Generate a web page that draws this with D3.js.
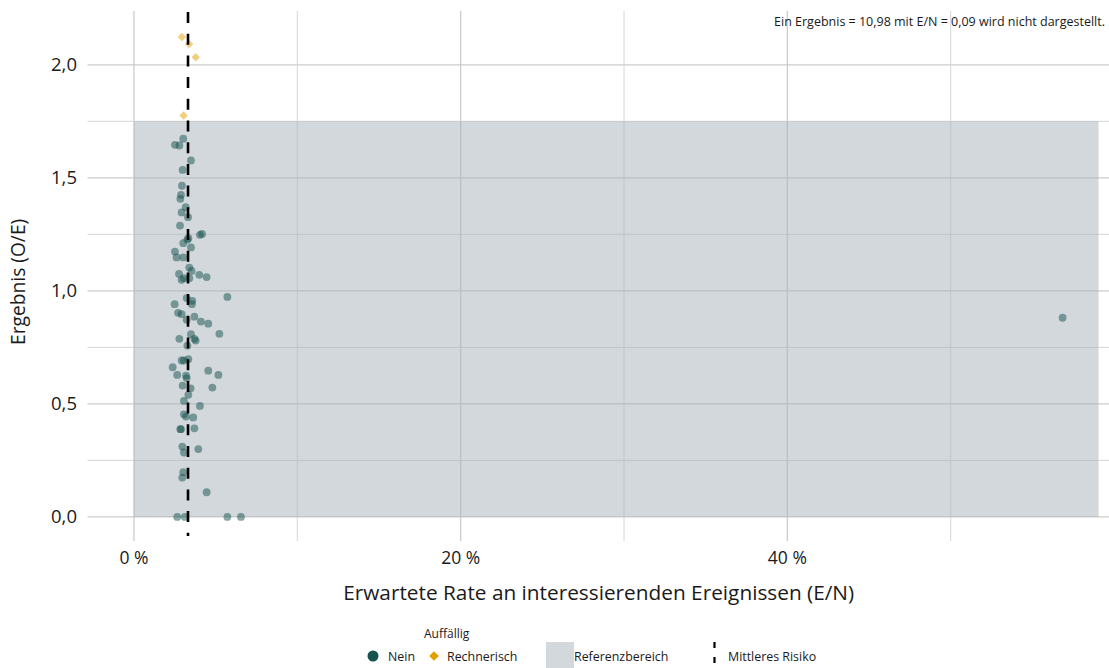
<!DOCTYPE html>
<html>
<head>
<meta charset="utf-8">
<script src="https://cdn.jsdelivr.net/npm/d3@7"></script>
<style>
  html, body { margin: 0; padding: 0; background: #fff; }
  svg text { font-family: "Open Sans", Lato, sans-serif; fill: #1a1a1a; }
</style>
</head>
<body>
<svg id="chart" width="1109" height="668"></svg>
<script>
// ---- data ----
// "Nein" (not conspicuous): expected rate E/N in %, result O/E
const neinRate = [
  3.02, 2.51, 2.78, 3.49, 2.98, 2.94, 2.88, 2.84, 3.17, 2.92, 3.31, 2.82,
  4.17, 4.04, 3.33, 3.27, 3.02, 3.49, 2.51, 2.61, 3.02, 3.39, 3.53, 2.76,
  4.00, 4.45, 3.06, 2.92, 3.39, 5.72, 3.23, 3.57, 3.55, 2.49, 2.70, 2.92,
  3.70, 3.23, 4.10, 4.55, 5.23, 3.49, 2.78, 3.70, 3.78, 3.27, 3.33, 2.92,
  3.06, 2.37, 4.55, 5.17, 2.65, 3.19, 3.23, 2.98, 3.47, 4.80, 3.33, 3.06,
  4.04, 3.06, 3.19, 3.63, 2.84, 2.88, 3.70, 2.96, 3.94, 3.06, 3.02, 2.96,
  4.45, 2.65, 3.12, 5.72, 6.55, 56.85
];
const neinResult = [
  1.673, 1.646, 1.643, 1.577, 1.535, 1.465, 1.425, 1.407, 1.370, 1.347, 1.326, 1.289,
  1.252, 1.248, 1.233, 1.226, 1.211, 1.192, 1.174, 1.148, 1.148, 1.103, 1.088, 1.075,
  1.071, 1.061, 1.056, 1.049, 1.056, 0.973, 0.968, 0.956, 0.941, 0.941, 0.903, 0.897,
  0.886, 0.872, 0.864, 0.855, 0.810, 0.808, 0.788, 0.788, 0.780, 0.758, 0.698, 0.692,
  0.692, 0.662, 0.647, 0.628, 0.628, 0.625, 0.614, 0.581, 0.569, 0.572, 0.540, 0.513,
  0.491, 0.454, 0.444, 0.440, 0.388, 0.388, 0.392, 0.311, 0.300, 0.285, 0.198, 0.174,
  0.109, 0.0, 0.0, 0.0, 0.0, 0.881
];
// "Rechnerisch" (computationally conspicuous)
const rechRate = [2.94, 3.37, 3.78, 3.04];
const rechResult = [2.123, 2.092, 2.034, 1.776];

const refLow = 0, refHigh = 1.75;     // Referenzbereich O/E
const refRateMax = 59.05;             // extent of reference area in %
const meanRate = 3.31;                // Mittleres Risiko (E/N, %)

const yMajor = [0, 0.5, 1.0, 1.5, 2.0];
const yMinor = [0.25, 0.75, 1.25, 1.75];
const xMajor = [0, 20, 40];
const xMinor = [10, 30, 50];

const noteText = "Ein Ergebnis = 10,98 mit E/N = 0,09 wird nicht dargestellt.";
const xTitle = "Erwartete Rate an interessierenden Ereignissen (E/N)";
const yTitle = "Ergebnis (O/E)";
const legendTitle = "Auffällig";
const legendLabels = ["Nein", "Rechnerisch", "Referenzbereich", "Mittleres Risiko"];

const colNein = "#16524e";
const colRech = "#e69f00";

// ---- layout ----
const svg = d3.select("#chart");
const pLeft = 87.5, pRight = 1109, pTop = 11, pBottom = 541;

const x = d3.scaleLinear().domain([-2.843, 59.69]).range([pLeft, pRight]);
const y = d3.scaleLinear().domain([-0.1066, 2.2381]).range([pBottom, pTop]);

const fmt = d3.format(".1f");
const comma = v => fmt(v).replace(".", ",");

// gridlines
const g = svg.append("g");
g.selectAll(".ymin").data(yMinor).join("line")
  .attr("x1", pLeft).attr("x2", pRight)
  .attr("y1", d => y(d)).attr("y2", d => y(d))
  .attr("stroke", "#d6d6d6").attr("stroke-width", 1);
g.selectAll(".xmin").data(xMinor).join("line")
  .attr("y1", pTop).attr("y2", pBottom)
  .attr("x1", d => x(d)).attr("x2", d => x(d))
  .attr("stroke", "#d6d6d6").attr("stroke-width", 1);
g.selectAll(".ymaj").data(yMajor).join("line")
  .attr("x1", pLeft).attr("x2", pRight)
  .attr("y1", d => y(d)).attr("y2", d => y(d))
  .attr("stroke", "#cccccc").attr("stroke-width", 1.3);
g.selectAll(".xmaj").data(xMajor).join("line")
  .attr("y1", pTop).attr("y2", pBottom)
  .attr("x1", d => x(d)).attr("x2", d => x(d))
  .attr("stroke", "#cccccc").attr("stroke-width", 1.3);

// reference area
svg.append("rect")
  .attr("x", x(0)).attr("y", y(refHigh))
  .attr("width", x(refRateMax) - x(0))
  .attr("height", y(refLow) - y(refHigh))
  .attr("fill", "#a7b2ba").attr("fill-opacity", 0.5);

// points
const nein = neinRate.map((r, i) => ({ r, v: neinResult[i] }));
const rech = rechRate.map((r, i) => ({ r, v: rechResult[i] }));

svg.append("g").selectAll("circle").data(nein).join("circle")
  .attr("cx", d => x(d.r)).attr("cy", d => y(d.v)).attr("r", 3.9)
  .attr("fill", colNein).attr("fill-opacity", 0.5);

const diamond = d3.symbol().type(d3.symbolDiamond2).size(46);
svg.append("g").selectAll("path").data(rech).join("path")
  .attr("d", diamond)
  .attr("transform", d => `translate(${x(d.r)},${y(d.v)})`)
  .attr("fill", colRech).attr("fill-opacity", 0.5);

// mean line
svg.append("line")
  .attr("x1", x(meanRate)).attr("x2", x(meanRate))
  .attr("y1", pTop + 1).attr("y2", pBottom - 5)
  .attr("stroke", "#000").attr("stroke-width", 2.6)
  .attr("stroke-dasharray", "11,10.7");

// axes labels
svg.append("g").selectAll("text").data(yMajor).join("text")
  .attr("x", 77).attr("y", d => y(d)).attr("dy", "0.35em")
  .attr("text-anchor", "end").attr("font-size", 18.5)
  .text(d => comma(d));
svg.append("g").selectAll("text").data(xMajor).join("text")
  .attr("x", d => x(d)).attr("y", 564)
  .attr("text-anchor", "middle").attr("font-size", 17.5)
  .text(d => d + " %");

svg.append("text")
  .attr("x", x(28.45)).attr("y", 600)
  .attr("text-anchor", "middle").attr("font-size", 20.8)
  .text(xTitle);
svg.append("text")
  .attr("transform", `translate(25,${(y(1.04))}) rotate(-90)`)
  .attr("text-anchor", "middle").attr("font-size", 19.2)
  .text(yTitle);

// note
svg.append("text")
  .attr("x", 1105).attr("y", 26)
  .attr("text-anchor", "end").attr("font-size", 12.5)
  .text(noteText);

// legend
const lg = svg.append("g");
const lfs = 12.4;
lg.append("text").attr("x", 424).attr("y", 638).attr("font-size", 12).text(legendTitle);
lg.append("circle").attr("cx", 373).attr("cy", 656).attr("r", 5.5).attr("fill", colNein);
lg.append("text").attr("x", 388).attr("y", 660.5).attr("font-size", lfs).text(legendLabels[0]);
lg.append("path").attr("d", d3.symbol().type(d3.symbolDiamond2).size(60))
  .attr("transform", "translate(434,656)").attr("fill", colRech);
lg.append("text").attr("x", 447).attr("y", 660.5).attr("font-size", lfs).text(legendLabels[1]);
lg.append("rect").attr("x", 546).attr("y", 642).attr("width", 28).attr("height", 28)
  .attr("fill", "#a7b2ba").attr("fill-opacity", 0.5);
lg.append("text").attr("x", 574).attr("y", 660.5).attr("font-size", lfs).text(legendLabels[2]);
lg.append("line").attr("x1", 714.5).attr("x2", 714.5).attr("y1", 642).attr("y2", 668)
  .attr("stroke", "#000").attr("stroke-width", 2.2).attr("stroke-dasharray", "6,9");
lg.append("text").attr("x", 728).attr("y", 660.5).attr("font-size", lfs).text(legendLabels[3]);
</script>
</body>
</html>
